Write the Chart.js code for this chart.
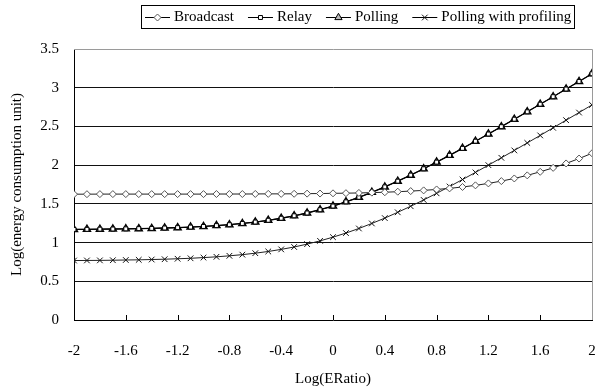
<!DOCTYPE html>
<html>
<head>
<meta charset="utf-8">
<script src="https://cdn.jsdelivr.net/npm/chart.js@4/dist/chart.umd.min.js"></script>
<style>
  html, body { margin: 0; padding: 0; background: #fff; }
  #wrap { width: 600px; height: 392px; }
</style>
</head>
<body>
<div id="wrap"><canvas id="c" width="600" height="392"></canvas></div>
<script>
const xValues = [-2.0,-1.9,-1.8,-1.7,-1.6,-1.5,-1.4,-1.3,-1.2,-1.1,-1.0,-0.9,-0.8,-0.7,-0.6,-0.5,-0.4,-0.3,-0.2,-0.1,0.0,0.1,0.2,0.3,0.4,0.5,0.6,0.7,0.8,0.9,1.0,1.1,1.2,1.3,1.4,1.5,1.6,1.7,1.8,1.9,2.0];
const seriesNames = ['Broadcast', 'Relay', 'Polling', 'Polling with profiling'];
const broadcast = [1.625,1.625,1.626,1.626,1.626,1.626,1.626,1.626,1.626,1.626,1.626,1.627,1.627,1.627,1.628,1.629,1.629,1.630,1.632,1.633,1.636,1.638,1.641,1.645,1.650,1.657,1.665,1.674,1.686,1.700,1.718,1.739,1.764,1.794,1.828,1.868,1.914,1.965,2.022,2.085,2.153];
const relay = [1.170,1.171,1.173,1.175,1.177,1.180,1.183,1.188,1.193,1.200,1.208,1.219,1.231,1.247,1.265,1.288,1.314,1.346,1.382,1.424,1.472,1.526,1.585,1.649,1.719,1.793,1.871,1.953,2.039,2.127,2.217,2.309,2.402,2.497,2.593,2.689,2.787,2.884,2.983,3.081,3.180];
const polling = [1.170,1.171,1.173,1.175,1.177,1.180,1.183,1.188,1.193,1.200,1.208,1.219,1.231,1.247,1.265,1.288,1.314,1.346,1.382,1.424,1.472,1.526,1.585,1.649,1.719,1.793,1.871,1.953,2.039,2.127,2.217,2.309,2.402,2.497,2.593,2.689,2.787,2.884,2.983,3.081,3.180];
const pollingProfiling = [0.768,0.769,0.770,0.772,0.775,0.777,0.781,0.785,0.791,0.797,0.806,0.816,0.829,0.844,0.863,0.885,0.912,0.943,0.980,1.022,1.070,1.123,1.182,1.247,1.316,1.391,1.469,1.551,1.636,1.724,1.814,1.906,2.000,2.095,2.190,2.287,2.384,2.482,2.581,2.679,2.778];
const xTickValues = [-2,-1.6,-1.2,-0.8,-0.4,0,0.4,0.8,1.2,1.6,2];
const xTickLabels = ['-2','-1.6','-1.2','-0.8','-0.4','0','0.4','0.8','1.2','1.6','2'];
const yTickValues = [0,0.5,1,1.5,2,2.5,3,3.5];
const yTickLabels = ['0','0.5','1','1.5','2','2.5','3','3.5'];
const xTitle = 'Log(ERatio)';
const yTitle = 'Log(energy consumption unit)';

const FONT = '"Liberation Serif", "Times New Roman", serif';

function pts(arr) { return xValues.map((x, i) => ({ x: x, y: arr[i] })); }

const styles = [
  { pointStyle: 'rectRot', pointRadius: 3.5, pointBackgroundColor: '#fff', pointBorderColor: '#555', borderColor: '#222', borderWidth: 1, pointBorderWidth: 1 },
  { pointStyle: 'rect', pointRadius: 2.8, pointBackgroundColor: '#fff', pointBorderColor: '#000', borderColor: '#000', borderWidth: 1, pointBorderWidth: 1 },
  { pointStyle: 'triangle', pointRadius: 4.2, pointBackgroundColor: '#bbb', pointBorderColor: '#000', borderColor: '#000', borderWidth: 1.3, pointBorderWidth: 1.3 },
  { pointStyle: 'crossRot', pointRadius: 4, pointBackgroundColor: '#000', pointBorderColor: '#111', borderColor: '#222', borderWidth: 1, pointBorderWidth: 1 }
];
const seriesData = [broadcast, relay, polling, pollingProfiling];

const datasets = seriesData.map((arr, i) => Object.assign({
  label: seriesNames[i],
  data: pts(arr),
  fill: false,
  tension: 0,
  pointHoverRadius: 4
}, styles[i]));

const legendPlugin = {
  id: 'customLegend',
  afterDraw(chart) {
    const ctx = chart.ctx;
    ctx.save();
    ctx.font = '15px ' + FONT;
    ctx.textBaseline = 'middle';
    ctx.textAlign = 'left';
    let x = 145;
    const y = 17.5;
    let lastEnd = x;
    chart.data.datasets.forEach((ds) => {
      ctx.strokeStyle = '#000';
      ctx.lineWidth = 1;
      ctx.beginPath();
      ctx.moveTo(x, y);
      ctx.lineTo(x + 25, y);
      ctx.stroke();
      ctx.fillStyle = ds.pointBackgroundColor;
      ctx.strokeStyle = ds.pointBorderColor;
      Chart.helpers.drawPoint(ctx, { pointStyle: ds.pointStyle, radius: ds.pointRadius, rotation: 0, borderWidth: 1 }, x + 12.5, y);
      ctx.fillStyle = '#000';
      ctx.fillText(ds.label, x + 29, y);
      const w = ctx.measureText(ds.label).width;
      lastEnd = x + 29 + w;
      x = lastEnd + 14;
    });
    ctx.strokeStyle = '#000';
    ctx.lineWidth = 1;
    ctx.strokeRect(141.5, 5.5, Math.round(lastEnd + 3) - 141, 23);
    // inside tick marks on x axis
    const xs = chart.scales.x;
    const bottom = chart.chartArea.bottom;
    ctx.strokeStyle = '#000';
    xTickValues.forEach(v => {
      const px = Math.round(xs.getPixelForValue(v)) + 0.5;
      ctx.beginPath();
      ctx.moveTo(px, bottom);
      ctx.lineTo(px, bottom - 5);
      ctx.stroke();
    });
    // top & right border
    const ca = chart.chartArea;
    ctx.strokeStyle = '#9a9a9a';
    ctx.beginPath();
    ctx.moveTo(ca.left, Math.round(ca.top) + 0.5);
    ctx.lineTo(Math.round(ca.right) + 0.5, Math.round(ca.top) + 0.5);
    ctx.lineTo(Math.round(ca.right) + 0.5, ca.bottom);
    ctx.stroke();
    ctx.restore();
  }
};

new Chart(document.getElementById('c'), {
  type: 'line',
  data: { datasets: datasets },
  options: {
    responsive: false,
    animation: false,
    devicePixelRatio: 1,
    layout: { padding: { top: 49, left: 0, right: 8, bottom: 0 } },
    plugins: {
      legend: { display: false },
      tooltip: { enabled: false }
    },
    scales: {
      x: {
        type: 'linear',
        min: -2,
        max: 2,
        afterBuildTicks: (scale) => { scale.ticks = xTickValues.map(v => ({ value: v })); },
        afterFit: (scale) => { scale.height = 72; scale.paddingRight = 2; scale.paddingLeft = 2; },
        ticks: {
          autoSkip: false,
          maxRotation: 0,
          padding: 22,
          color: '#000',
          font: { family: FONT, size: 15 },
          callback: (v, i) => xTickLabels[i]
        },
        grid: { display: false, drawTicks: false },
        border: { display: true, color: '#000', width: 1 },
        title: {
          display: true,
          text: xTitle,
          color: '#000',
          font: { family: FONT, size: 15 },
          padding: { top: 0, bottom: 4 }
        }
      },
      y: {
        type: 'linear',
        min: 0,
        max: 3.5,
        afterBuildTicks: (scale) => { scale.ticks = yTickValues.map(v => ({ value: v })); },
        afterFit: (scale) => { scale.width = 74; },
        ticks: {
          padding: 15,
          color: '#000',
          font: { family: FONT, size: 15 },
          callback: (v, i) => yTickLabels[i]
        },
        grid: {
          drawTicks: false,
          color: (c) => (c.tick && (c.tick.value === 0 || c.tick.value === 3.5)) ? 'rgba(0,0,0,0)' : '#111',
          lineWidth: 1
        },
        border: { display: true, color: '#000', width: 1 },
        title: {
          display: true,
          text: yTitle,
          color: '#000',
          font: { family: FONT, size: 15 },
          padding: { top: 8, bottom: 0 }
        }
      }
    }
  },
  plugins: [legendPlugin]
});
</script>
</body>
</html>
